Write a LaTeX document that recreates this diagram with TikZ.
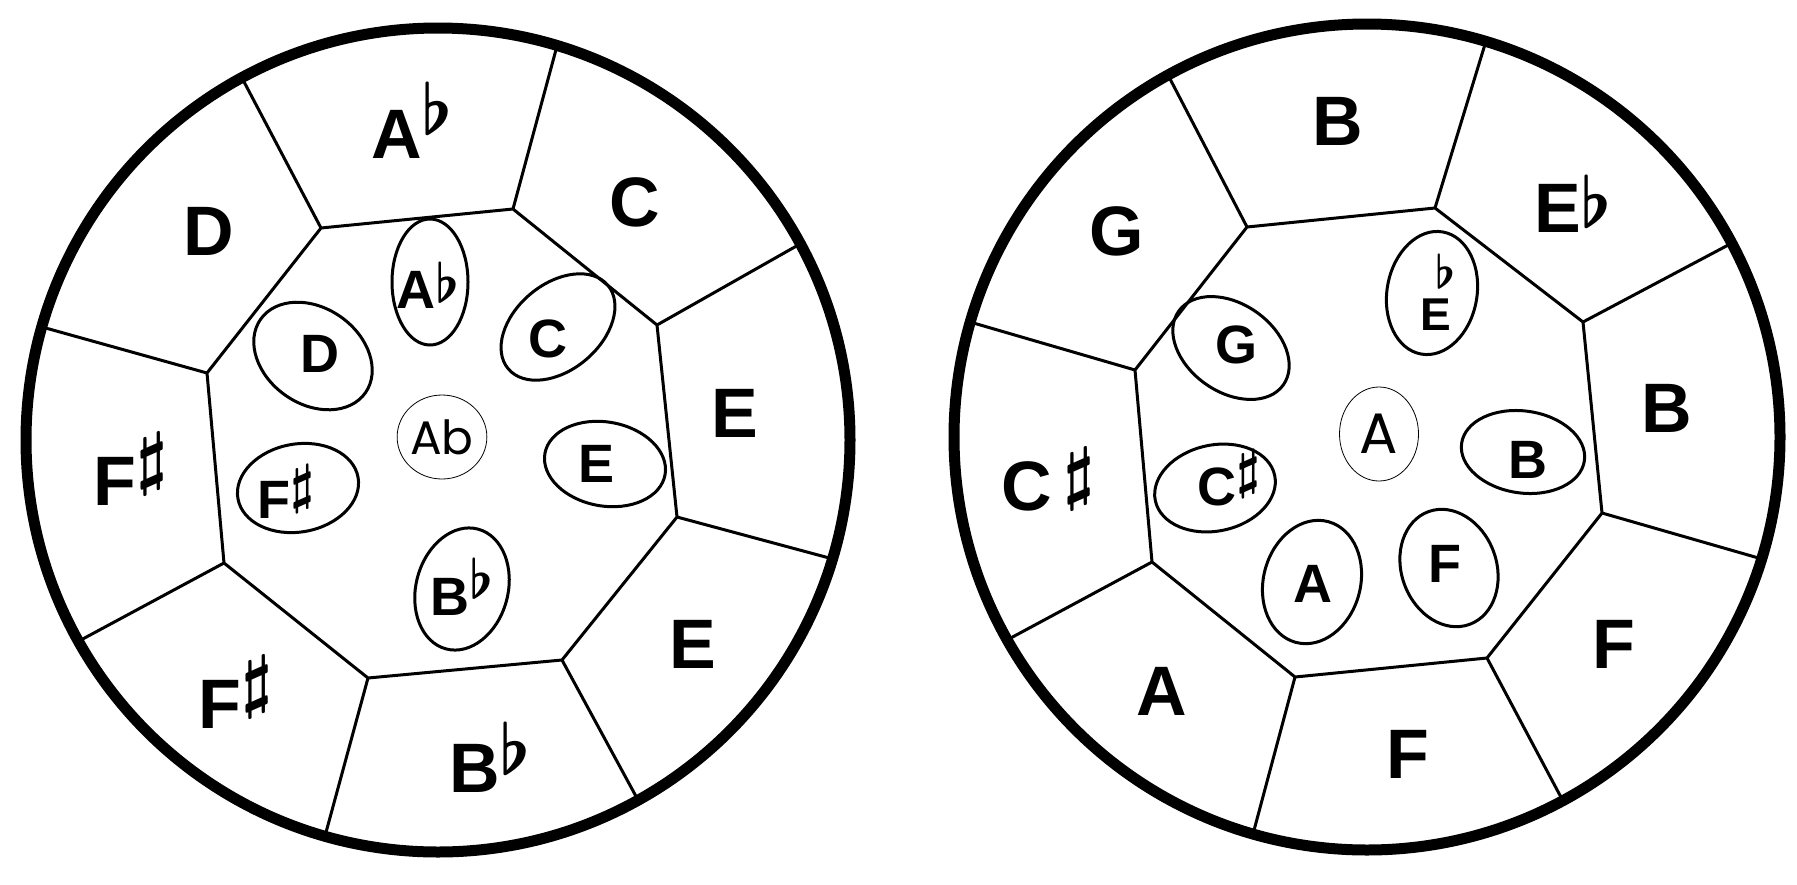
\documentclass[tikz,border=0pt]{standalone}
\usepackage{fix-cm}
\usepackage{fontspec}
\setmainfont{Liberation Sans}
\newfontfamily\thinfont{Poppins}
\usepackage{tikz}
\usetikzlibrary{shapes.geometric}

\newcommand{\myflat}[1][.3em]{\raisebox{#1}{\boldmath$\flat$}}
\newcommand{\mysharp}[1][.3em]{\raisebox{#1}{\boldmath$\sharp$}}

\begin{document}
\begin{tikzpicture}[x=1pt,y=-1pt]
        \tikzset{pan/.style={line width=11pt},
        seam/.style={line width=3pt,line join=round},
        note/.style={draw,ellipse,line width=3pt,inner sep=0pt},
        tonic/.style={draw,ellipse,line width=.8pt,inner sep=0pt},
        outlbl/.style={anchor=base,inner sep=0pt,font=\bfseries\fontsize{70}{70}\selectfont},
        inlbl/.style={anchor=base,inner sep=0pt,font=\bfseries\fontsize{54}{54}\selectfont}}
        \useasboundingbox (0,0) rectangle (1797,884);

        % left pan
        \coordinate (lc) at (438,440);
        % inner ring corners
        \coordinate (l1) at (321,228);
        \coordinate (l2) at (513,209);
        \coordinate (l3) at (657,325);
        \coordinate (l4) at (677,517);
        \coordinate (l5) at (562,660);
        \coordinate (l6) at (368,678);
        \coordinate (l7) at (224,563);
        \coordinate (l8) at (207,373);
        % rim ends
        \coordinate (lo1) at (242,78);
        \coordinate (lo2) at (557,46);
        \coordinate (lo3) at (800,244);
        \coordinate (lo4) at (833,559);
        \coordinate (lo5) at (638,800);
        \coordinate (lo6) at (325,836);
        \coordinate (lo7) at (79,641);
        \coordinate (lo8) at (42,327);

        % right pan
        \coordinate (rc) at (1367,437);
        % inner ring corners
        \coordinate (r1) at (1247,227);
        \coordinate (r2) at (1435,208);
        \coordinate (r3) at (1583,322);
        \coordinate (r4) at (1602,513);
        \coordinate (r5) at (1487,658);
        \coordinate (r6) at (1295,677);
        \coordinate (r7) at (1152,562);
        \coordinate (r8) at (1135,370);
        % rim ends
        \coordinate (ro1) at (1168,75);
        \coordinate (ro2) at (1486,41);
        \coordinate (ro3) at (1732,243);
        \coordinate (ro4) at (1762,559);
        \coordinate (ro5) at (1563,801);
        \coordinate (ro6) at (1253,834);
        \coordinate (ro7) at (1007,640);
        \coordinate (ro8) at (970,322);

        % seams
        \draw[seam] (l1) -- (l2) -- (l3) -- (l4) -- (l5) -- (l6) -- (l7) -- (l8) -- cycle;
        \draw[seam] (l1) -- (lo1);
        \draw[seam] (l2) -- (lo2);
        \draw[seam] (l3) -- (lo3);
        \draw[seam] (l4) -- (lo4);
        \draw[seam] (l5) -- (lo5);
        \draw[seam] (l6) -- (lo6);
        \draw[seam] (l7) -- (lo7);
        \draw[seam] (l8) -- (lo8);
        \draw[seam] (r1) -- (r2) -- (r3) -- (r4) -- (r5) -- (r6) -- (r7) -- (r8) -- cycle;
        \draw[seam] (r1) -- (ro1);
        \draw[seam] (r2) -- (ro2);
        \draw[seam] (r3) -- (ro3);
        \draw[seam] (r4) -- (ro4);
        \draw[seam] (r5) -- (ro5);
        \draw[seam] (r6) -- (ro6);
        \draw[seam] (r7) -- (ro7);
        \draw[seam] (r8) -- (ro8);

        % rims
        \draw[pan] (lc) circle (412pt);
        \draw[pan] (rc) circle (413pt);

        % left pan, outer notes
        \node[outlbl] (lAb) at (412,158) {A\myflat[.33em]};
        \node[outlbl] (lC) at (635,226) {C};
        \node[outlbl] (lE) at (735,437) {E};
        \node[outlbl] (lEE) at (693,668) {E};
        \node[outlbl] (lBb) at (490,792) {B\myflat[.25em]};
        \node[outlbl] (lFs) at (236,728) {F\mysharp[.34em]};
        \node[outlbl] (lFFs) at (131,505) {F\mysharp[.34em]};
        \node[outlbl] (lD) at (209,255) {D};

        % left pan, inner notes
        \node[note,minimum width=76,minimum height=126] (nAb) at (430,282) {};
        \node[note,minimum width=130,minimum height=86,rotate=40] (nC) at (558,327) {};
        \node[note,minimum width=128,minimum height=96,rotate=-35] (nD) at (313,356) {};
        \node[note,minimum width=122,minimum height=84,rotate=-10] (nE) at (605,464) {};
        \node[note,minimum width=92,minimum height=124,rotate=-15] (nBb) at (462,589) {};
        \node[note,minimum width=122,minimum height=88,rotate=10] (nFs) at (298,488) {};
        \node[inlbl] (tAb) at (428,308) {A\myflat[.1em]};
        \node[inlbl] (tC) at (548,357) {C};
        \node[inlbl] (tD) at (320,372) {D};
        \node[inlbl] (tE) at (597,482) {E};
        \node[inlbl] (tBb) at (462,615) {B\myflat[.3em]};
        \node[inlbl] (tFs) at (286,518) {F\mysharp[.28em]};
        \node[tonic,minimum width=70,minimum height=84,font=\thinfont\fontsize{47}{47}\selectfont] (lkey) at (442,437) {Ab};

        % right pan, outer notes
        \node[outlbl] (rB) at (1338,145) {B};
        \node[outlbl] (rEb) at (1573,232) {E\myflat[.07em]};
        \node[outlbl] (rBB) at (1667,432) {B};
        \node[outlbl] (rF) at (1614,668) {F};
        \node[outlbl] (rFF) at (1408,778) {F};
        \node[outlbl] (rA) at (1162,715) {A};
        \node[outlbl] (rCs) at (1048,510) {C\,\mysharp[.2em]};
        \node[outlbl] (rG) at (1117,255) {G};

        % right pan, inner notes
        \node[note,minimum width=90,minimum height=124,rotate=-10] (mEb) at (1432,293) {};
        \node[note,minimum width=128,minimum height=88,rotate=-35] (mG) at (1231,348) {};
        \node[note,minimum width=122,minimum height=86,rotate=12] (mCs) at (1215,488) {};
        \node[note,minimum width=124,minimum height=82,rotate=-8] (mB) at (1523,452) {};
        \node[note,minimum width=97,minimum height=125,rotate=-15] (mA) at (1312,582) {};
        \node[note,minimum width=95,minimum height=120,rotate=20] (mF) at (1449,568) {};
        \node[inlbl,anchor=center,align=center,font=\bfseries\fontsize{46}{46}\selectfont] (uEb) at (1436,292) {\hspace*{.4em}\myflat[0pt]\\[-4pt]E};
        \node[inlbl] (uG) at (1236,363) {G};
        \node[inlbl] (uCs) at (1229,505) {C\mysharp[.33em]};
        \node[inlbl] (uB) at (1528,478) {B};
        \node[inlbl] (uA) at (1313,602) {A};
        \node[inlbl] (uF) at (1445,582) {F};
        \node[tonic,minimum width=79,minimum height=94,font=\thinfont\fontsize{57}{57}\selectfont] (rkey) at (1379,434) {A};
\end{tikzpicture}
\end{document}
